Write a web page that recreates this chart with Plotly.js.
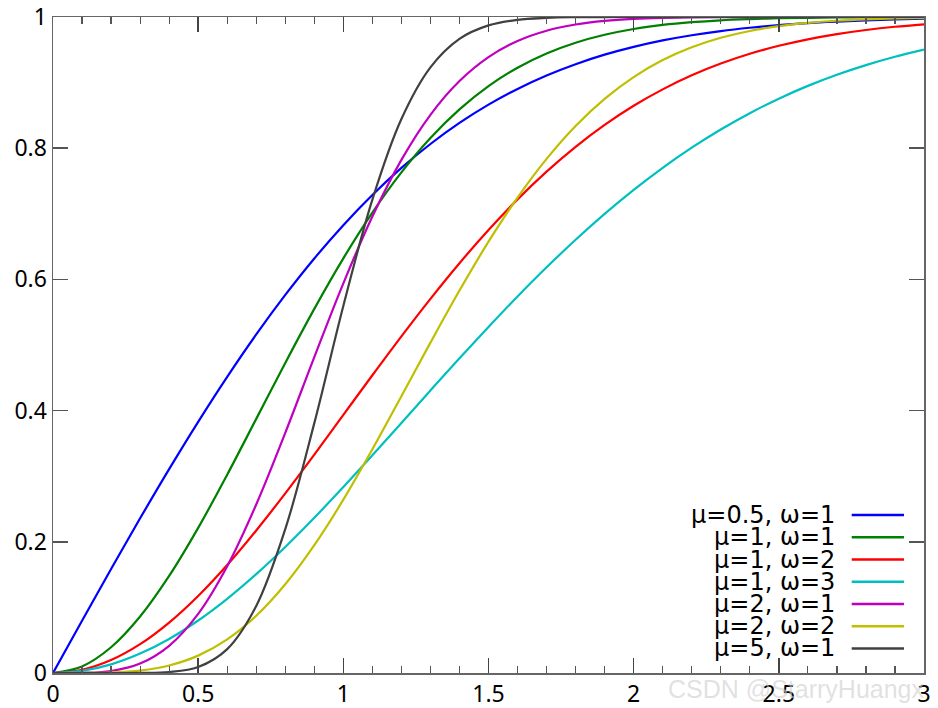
<!DOCTYPE html>
<html>
<head>
<meta charset="utf-8">
<script src="https://cdn.plot.ly/plotly-3.0.1.min.js"></script>
<style>
html,body{margin:0;padding:0;background:#fff;}
#chart{width:938px;height:708px;}
</style>
</head>
<body>
<div id="chart"></div>
<script>
// x positions (read every 0.1)
const xVals = [0,0.1,0.2,0.3,0.4,0.5,0.6,0.7,0.8,0.9,1.0,1.1,1.2,1.3,1.4,1.5,1.6,1.7,1.8,1.9,2.0,2.1,2.2,2.3,2.4,2.5,2.6,2.7,2.8,2.9,3.0];

// CDF values
const mu05_w1 = [0,0.0797,0.1585,0.2358,0.3108,0.3829,0.4515,0.5161,0.5763,0.6319,0.6827,0.7287,0.7699,0.8064,0.8385,0.8664,0.8904,0.9109,0.9281,0.9426,0.9545,0.9643,0.9722,0.9786,0.9836,0.9876,0.9907,0.9931,0.9949,0.9963,0.9973];
const mu1_w1 = [0,0.0100,0.0392,0.0861,0.1479,0.2212,0.3023,0.3874,0.4727,0.5551,0.6321,0.7018,0.7631,0.8155,0.8591,0.8946,0.9227,0.9444,0.9608,0.9729,0.9817,0.9879,0.9921,0.9950,0.9968,0.9981,0.9988,0.9993,0.9996,0.9998,0.9999];
const mu1_w2 = [0,0.0050,0.0198,0.0440,0.0769,0.1175,0.1647,0.2173,0.2739,0.3330,0.3935,0.4539,0.5132,0.5704,0.6247,0.6753,0.7220,0.7643,0.8021,0.8355,0.8647,0.8897,0.9111,0.9290,0.9439,0.9561,0.9660,0.9739,0.9802,0.9851,0.9889];
const mu1_w3 = [0,0.0033,0.0132,0.0296,0.0519,0.0800,0.1131,0.1507,0.1921,0.2366,0.2835,0.3319,0.3812,0.4307,0.4797,0.5276,0.5740,0.6184,0.6604,0.6998,0.7364,0.7701,0.8008,0.8285,0.8534,0.8755,0.8950,0.9120,0.9267,0.9394,0.9502];
const mu2_w1 = [0,0.0002,0.0030,0.0144,0.0415,0.0902,0.1628,0.2569,0.3661,0.4815,0.5940,0.6959,0.7822,0.8509,0.9024,0.9389,0.9634,0.9791,0.9885,0.9940,0.9970,0.9985,0.9993,0.9997,0.9999,1.0,1.0,1.0,1.0,1.0,1.0];
const mu2_w2 = [0,0.0000,0.0008,0.0038,0.0115,0.0265,0.0512,0.0872,0.1352,0.1948,0.2642,0.3410,0.4219,0.5036,0.5830,0.6575,0.7248,0.7838,0.8340,0.8753,0.9084,0.9343,0.9538,0.9683,0.9787,0.9860,0.9910,0.9943,0.9965,0.9979,0.9988];
const mu5_w1 = [0,0,0,0.0001,0.0014,0.0091,0.0364,0.1022,0.2194,0.3809,0.5595,0.7216,0.8445,0.9233,0.9667,0.9872,0.9957,0.9987,0.9997,0.9999,1.0,1.0,1.0,1.0,1.0,1.0,1.0,1.0,1.0,1.0,1.0];

const seriesNames = ['μ=0.5, ω=1','μ=1, ω=1','μ=1, ω=2','μ=1, ω=3','μ=2, ω=1','μ=2, ω=2','μ=5, ω=1'];
const seriesData = [mu05_w1, mu1_w1, mu1_w2, mu1_w3, mu2_w1, mu2_w2, mu5_w1];
const seriesColors = ['#0000ff','#008000','#ff0000','#00bfbf','#bf00bf','#bfbf00','#404040'];

const xTickVals = [0,0.5,1,1.5,2,2.5,3];
const xTickText = ['0','0.5','1','1.5','2','2.5','3'];
const yTickVals = [0,0.2,0.4,0.6,0.8,1];
const yTickText = ['0','0.2','0.4','0.6','0.8','1'];

const traces = seriesData.map((ys, i) => ({
  x: xVals, y: ys, type: 'scatter', mode: 'lines', name: seriesNames[i],
  line: {color: seriesColors[i], width: 2.2, shape: 'spline', smoothing: 1},
  showlegend: false, hoverinfo: 'skip'
}));

// custom legend (text on left, line sample on right)
const legTop = 0.2408, legStep = 0.0339;
const annotations = seriesNames.map((n, i) => ({
  xref: 'paper', yref: 'paper', x: 0.9005, y: legTop - i*legStep,
  xanchor: 'right', yanchor: 'middle', text: n, showarrow: false,
  font: {family: 'DejaVu Sans', size: 24, color: '#000'}
}));
annotations.push({
  xref: 'paper', yref: 'paper', x: 0.704, y: 0.0,
  xanchor: 'left', yanchor: 'top', text: 'CSDN @StarryHuangx', showarrow: false,
  font: {family: 'Liberation Sans', size: 25, color: 'rgba(205,205,205,0.6)'}
});
const shapes = seriesColors.map((c, i) => ({
  type: 'line', xref: 'paper', yref: 'paper',
  x0: 0.917, x1: 0.977, y0: legTop - i*legStep, y1: legTop - i*legStep,
  line: {color: c, width: 2.5}
}));

const layout = {
  width: 938, height: 708,
  margin: {l: 53, r: 14, t: 17, b: 35},
  paper_bgcolor: '#fff', plot_bgcolor: '#fff',
  font: {family: 'Noto Sans', size: 23, color: '#000'},
  xaxis: {
    range: [0, 3], tickvals: xTickVals, ticktext: xTickText,
    showgrid: false, zeroline: false, showline: true, mirror: 'allticks',
    linecolor: '#666', linewidth: 1.5,
    ticks: 'inside', ticklen: 15, tickwidth: 1.5, tickcolor: '#444',
    minor: {dtick: 0.1, ticks: 'inside', ticklen: 7, tickwidth: 1.2, tickcolor: '#555', showgrid: false},
    tickfont: {family: 'Noto Sans', size: 23}
  },
  yaxis: {
    range: [0, 1], tickvals: yTickVals, ticktext: yTickText,
    showgrid: false, zeroline: false, showline: true, mirror: 'allticks',
    linecolor: '#666', linewidth: 1.5,
    ticks: 'inside', ticklen: 15, tickwidth: 1.5, tickcolor: '#555',
    tickfont: {family: 'Noto Sans', size: 23}
  },
  annotations: annotations,
  shapes: shapes
};

Plotly.newPlot('chart', traces, layout, {displayModeBar: false, staticPlot: true});
</script>
</body>
</html>
